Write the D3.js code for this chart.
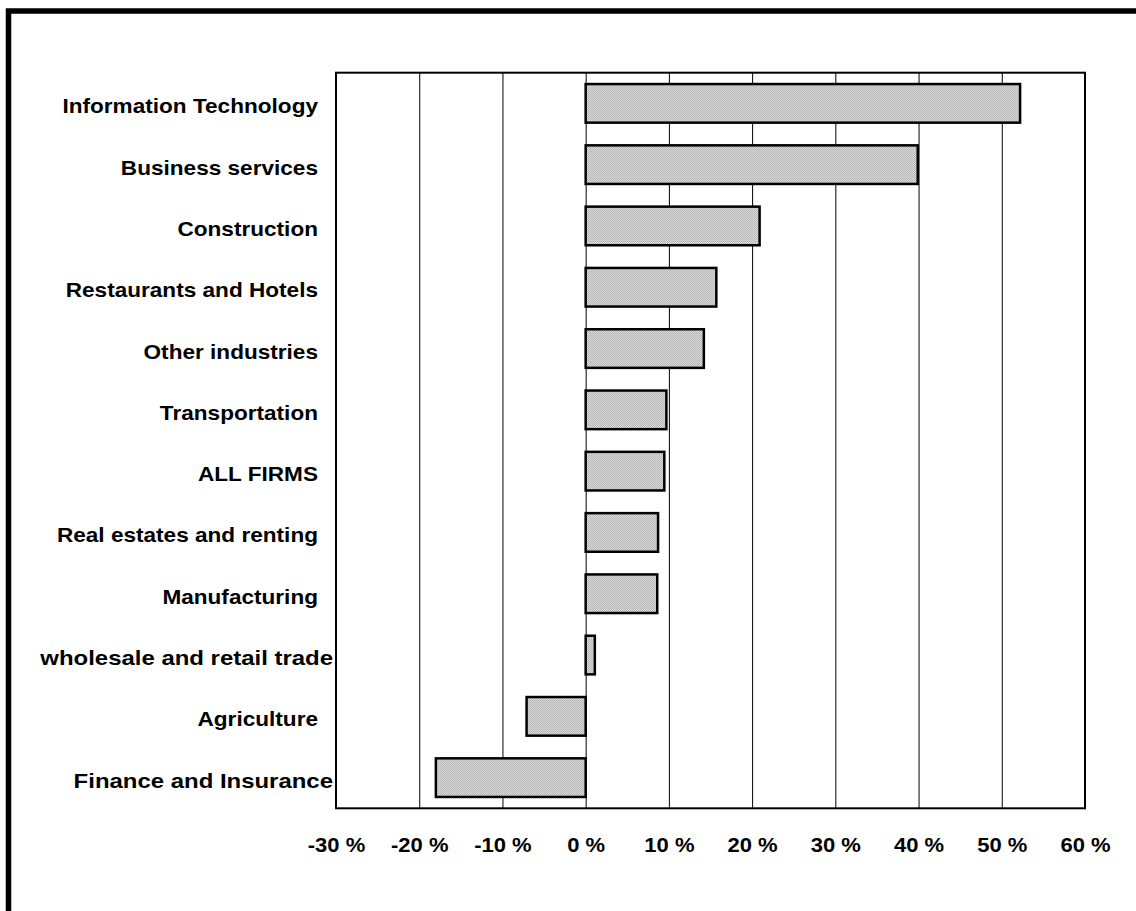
<!DOCTYPE html>
<html>
<head>
<meta charset="utf-8">
<script src="https://cdn.jsdelivr.net/npm/d3@7"></script>
<style>
  body { margin: 0; background: #fff; }
  svg { display: block; }
  text { font-family: "Liberation Sans", Arial, sans-serif; font-weight: bold; fill: #000; }
</style>
</head>
<body>
<div id="chart"></div>
<script>
// categories, top to bottom
const categories = [
    "Information Technology",
    "Business services",
    "Construction",
    "Restaurants and Hotels",
    "Other industries",
    "Transportation",
    "ALL FIRMS",
    "Real estates and renting",
    "Manufacturing",
    "wholesale and retail trade",
    "Agriculture",
    "Finance and Insurance"
];

// growth in percent
const growth = [52.2, 39.9, 20.9, 15.7, 14.2, 9.7, 9.45, 8.7, 8.6, 1.1, -7.1, -18.0];

const tickValues = [-30, -20, -10, 0, 10, 20, 30, 40, 50, 60];

const width = 1136, height = 911;
const plot = { left: 336, right: 1085, top: 72.7, bottom: 808.3 };
const stretch = 1.13; // text in the original is drawn a bit wider than normal

const svg = d3.select("#chart").append("svg")
    .attr("width", width)
    .attr("height", height);

// checkered grey fill like the original
const defs = svg.append("defs");
const pat = defs.append("pattern")
    .attr("id", "dots")
    .attr("width", 2).attr("height", 2)
    .attr("patternUnits", "userSpaceOnUse");
pat.append("rect").attr("width", 2).attr("height", 2).attr("fill", "#dadada");
pat.append("rect").attr("width", 1).attr("height", 1).attr("fill", "#b6b6b6");
pat.append("rect").attr("x", 1).attr("y", 1).attr("width", 1).attr("height", 1).attr("fill", "#b6b6b6");

// outer frame
svg.append("rect")
    .attr("x", 8.5).attr("y", 11)
    .attr("width", 1300).attr("height", 1100)
    .attr("fill", "none")
    .attr("stroke", "#000")
    .attr("stroke-width", 5.5);

const x = d3.scaleLinear()
    .domain([-30, 60])
    .range([plot.left, plot.right]);

const y = d3.scaleBand()
    .domain(categories)
    .range([plot.top, plot.bottom])
    .paddingInner(0.37)
    .paddingOuter(0.185);

// vertical grid lines
svg.append("g")
    .attr("class", "grid")
    .attr("transform", `translate(0,${plot.bottom})`)
    .call(d3.axisBottom(x)
        .tickValues(tickValues)
        .tickSize(-(plot.bottom - plot.top))
        .tickFormat(""))
    .call(g => g.select(".domain").remove())
    .selectAll("line")
    .attr("stroke", "#000")
    .attr("stroke-width", 1);

// bars
svg.selectAll(".bar")
    .data(growth)
    .join("rect")
    .attr("class", "bar")
    .attr("x", d => x(Math.min(0, d)))
    .attr("y", (d, i) => y(categories[i]))
    .attr("width", d => Math.abs(x(d) - x(0)))
    .attr("height", y.bandwidth())
    .attr("fill", "url(#dots)")
    .attr("stroke", "#000")
    .attr("stroke-width", 2.5);

// plot frame
svg.append("rect")
    .attr("x", plot.left).attr("y", plot.top)
    .attr("width", plot.right - plot.left)
    .attr("height", plot.bottom - plot.top)
    .attr("fill", "none")
    .attr("stroke", "#000")
    .attr("stroke-width", 2);

// x tick labels
svg.append("g")
    .attr("transform", `translate(0,${plot.bottom})`)
    .call(d3.axisBottom(x)
        .tickValues(tickValues)
        .tickSize(0)
        .tickPadding(44)
        .tickFormat(d => d + " %"))
    .call(g => g.select(".domain").remove())
    .selectAll("text")
    .attr("dy", 0)
    .attr("transform", "scale(1.1,1)")
    .style("font-size", "20px")
    .style("font-family", "'Liberation Sans', Arial, sans-serif")
    .style("font-weight", "bold");

// category labels (the two longest ones sit a little further right in the original)
const longLabels = ["wholesale and retail trade", "Finance and Insurance"];
svg.selectAll(".cat-label")
    .data(categories)
    .join("text")
    .attr("class", "cat-label")
    .attr("transform", d => {
        const xEnd = longLabels.includes(d) ? 333 : 318;
        const sx = longLabels.includes(d) ? stretch * 1.06 : stretch;
        return `translate(${xEnd},${y(d) + y.bandwidth() / 2 + 10}) scale(${sx},1)`;
    })
    .attr("text-anchor", "end")
    .style("font-size", "20px")
    .text(d => d);
</script>
</body>
</html>
